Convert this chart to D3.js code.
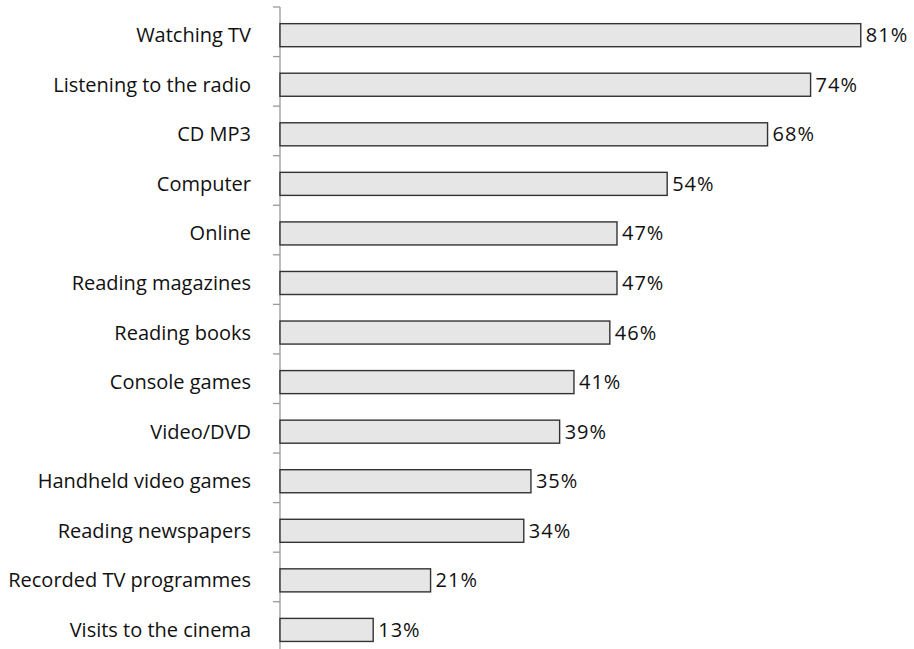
<!DOCTYPE html>
<html><head><meta charset="utf-8">
<script src="https://cdn.jsdelivr.net/npm/d3@7"></script>
<style>body{margin:0;background:#fff}svg{display:block}text{font-family:"Open Sans",sans-serif;fill:#111}</style>
</head><body><svg id="c" width="914" height="649"></svg>
<script>
const categories = ["Watching TV","Listening to the radio","CD MP3","Computer","Online","Reading magazines","Reading books","Console games","Video/DVD","Handheld video games","Reading newspapers","Recorded TV programmes","Visits to the cinema"];
const values = [81,74,68,54,47,47,46,41,39,35,34,21,13];
const valueLabels = values.map(v => v + "%");

const svg = d3.select("#c");
const x = d3.scaleLinear().domain([0,100]).range([280,997]);
const y = d3.scaleBand().domain(categories).range([7,651.3]).paddingInner(0.535).paddingOuter(0.2675);

// axis line and ticks
svg.append("line").attr("x1",280).attr("x2",280).attr("y1",7).attr("y2",649).attr("stroke","#999").attr("stroke-width",1.3);
const step = y.step();
const ticks = d3.range(categories.length+1).map(i => 7 + i*step);
svg.selectAll(".tk").data(ticks).join("line").attr("x1",273).attr("x2",280).attr("y1",d=>d).attr("y2",d=>d).attr("stroke","#999").attr("stroke-width",1.3);

const off = 3.4;
svg.selectAll(".bar").data(categories).join("rect")
  .attr("x", x(0)).attr("y", d => y(d)+off)
  .attr("width", (d,i) => x(values[i]) - x(0)).attr("height", y.bandwidth())
  .attr("fill","#e6e6e6").attr("stroke","#333").attr("stroke-width",1.4);

svg.selectAll(".lab").data(categories).join("text")
  .attr("x",251).attr("y", d => y(d)+off+y.bandwidth()/2).attr("dy","0.35em")
  .attr("text-anchor","end").attr("font-size",20).text(d=>d);

svg.selectAll(".val").data(categories).join("text")
  .attr("x",(d,i)=>x(values[i])+5).attr("y", d => y(d)+off+y.bandwidth()/2).attr("dy","0.35em")
  .attr("font-size",20).attr("letter-spacing",1).text((d,i)=>valueLabels[i]);
</script></body></html>
